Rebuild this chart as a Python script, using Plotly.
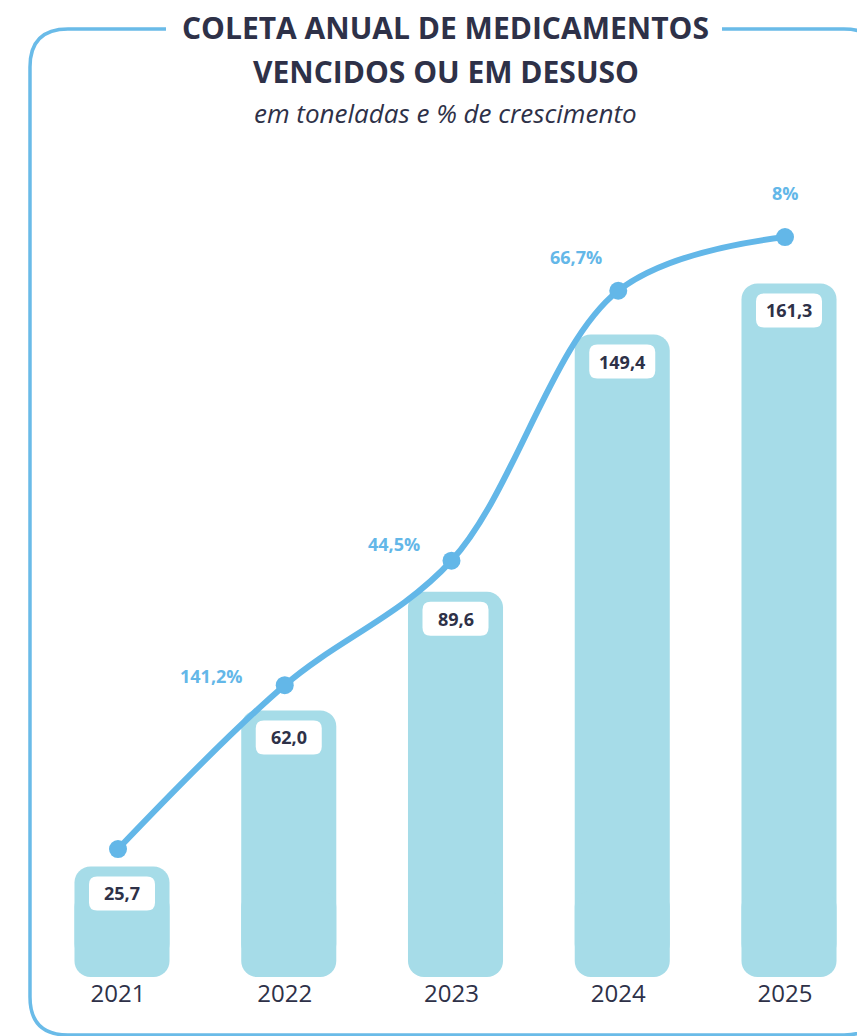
import plotly.graph_objects as go

# ---------------- data ----------------
years = ["2021", "2022", "2023", "2024", "2025"]
tonnes = [25.7, 62.0, 89.6, 149.4, 161.3]
tonnes_labels = ["25,7", "62,0", "89,6", "149,4", "161,3"]
growth_labels = ["", "141,2%", "44,5%", "66,7%", "8%"]

# ---------------- style ----------------
OFF = 8  # page body margin
W, H = 865 - OFF, 1036 - OFF
PLOT_TOP, PLOT_BOTTOM = 150 - OFF, 977 - OFF
BAR_COLOR = "#a6dce8"
LINE_COLOR = "#63b7e8"
TEXT_DARK = "#2e3148"
FONT = "Open Sans"

xs = list(range(len(years)))

fig = go.Figure()

# bars: two overlaid parts so both ends get rounded corners
BW = 0.57
bar_style = dict(marker_color=BAR_COLOR, marker_line_width=0, width=BW,
                 offset=-BW / 2 + 0.024, hoverinfo="skip", showlegend=False, opacity=1)
fig.add_trace(go.Bar(x=xs, y=[v - 4 for v in tonnes], base=[4] * len(xs), **bar_style))
fig.add_trace(go.Bar(x=xs, y=[-20] * len(xs), base=[20] * len(xs), **bar_style))

# line
fig.add_trace(go.Scatter(x=xs, y=tonnes, yaxis="y2", mode="lines+markers",
                         line=dict(color=LINE_COLOR, width=6, shape="spline", smoothing=1),
                         marker=dict(color=LINE_COLOR, size=18),
                         hoverinfo="skip", showlegend=False))

shapes = []
annotations = []

# value label boxes + text
bw, bh, r = 66, 34, 8
top_gap = 10
for i, (v, lab) in enumerate(zip(tonnes, tonnes_labels)):
    x0, x1 = -bw / 2 + 4, bw / 2 + 4
    y1, y0 = -top_gap, -top_gap - bh
    path = (f"M {x0 + r},{y1} L {x1 - r},{y1} Q {x1},{y1} {x1},{y1 - r} "
            f"L {x1},{y0 + r} Q {x1},{y0} {x1 - r},{y0} L {x0 + r},{y0} "
            f"Q {x0},{y0} {x0},{y0 + r} L {x0},{y1 - r} Q {x0},{y1} {x0 + r},{y1} Z")
    shapes.append(dict(type="path", xref="x", yref="y", xsizemode="pixel",
                       ysizemode="pixel", xanchor=xs[i], yanchor=v, path=path,
                       fillcolor="white", line=dict(width=0), layer="above"))
    annotations.append(dict(x=xs[i], y=v, xref="x", yref="y", text=f"<b>{lab}</b>",
                            showarrow=False, yshift=-top_gap - bh / 2, xshift=4,
                            font=dict(family=FONT, size=18, color=TEXT_DARK)))

# growth labels
offsets = [(0, 0), (-73, 9), (-58, 17), (-42, 34), (0, 44)]
for i, (v, lab) in enumerate(zip(tonnes, growth_labels)):
    if not lab:
        continue
    dx, dy = offsets[i]
    annotations.append(dict(x=xs[i], y=v, xref="x", yref="y2", text=f"<b>{lab}</b>",
                            showarrow=False, xshift=dx, yshift=dy,
                            font=dict(family=FONT, size=18, color=LINE_COLOR)))


def px(x):
    return (x - OFF) / W


def py(y):
    return (PLOT_BOTTOM - (y - OFF)) / (PLOT_BOTTOM - PLOT_TOP)


# titles
annotations += [
    dict(x=px(446), y=py(27), xref="paper", yref="paper", showarrow=False,
         text="<b>COLETA ANUAL DE MEDICAMENTOS</b>", yanchor="middle",
         font=dict(family=FONT, size=30, color=TEXT_DARK)),
    dict(x=px(446), y=py(71), xref="paper", yref="paper", showarrow=False,
         text="<b>VENCIDOS OU EM DESUSO</b>", yanchor="middle",
         font=dict(family=FONT, size=30, color=TEXT_DARK)),
    dict(x=px(446), y=py(113), xref="paper", yref="paper", showarrow=False,
         text="<i>em toneladas e % de crescimento</i>", yanchor="middle",
         font=dict(family=FONT, size=26, color=TEXT_DARK)),
]

# frame
L, R, T, B, rr = 30, 882, 29, 1035, 38
g0, g1 = 166, 722
pts = [
    ("M", (g1, T)), ("L", (R - rr, T)), ("Q", (R, T), (R, T + rr)),
    ("L", (R, B - rr)), ("Q", (R, B), (R - rr, B)), ("L", (L + rr, B)),
    ("Q", (L, B), (L, B - rr)), ("L", (L, T + rr)), ("Q", (L, T), (L + rr, T)),
    ("L", (g0, T)),
]
parts = []
for p in pts:
    cmd = p[0]
    coords = " ".join(f"{px(a):.5f},{py(b):.5f}" for a, b in p[1:])
    parts.append(f"{cmd} {coords}")
shapes.append(dict(type="path", xref="paper", yref="paper", path=" ".join(parts),
                   line=dict(color="#6abbe8", width=3.5), layer="below"))

spacing = 166.75
x_first = 118 - OFF
xr0 = -x_first / spacing
xr1 = xr0 + W / spacing
ppu_bar = 4.3
ppu_line = 4.513
zero_line_px = 965 - OFF
plot_h = PLOT_BOTTOM - PLOT_TOP
y2_lo = -(PLOT_BOTTOM - zero_line_px) / ppu_line

fig.update_layout(
    width=W, height=H,
    margin=dict(l=0, r=0, t=PLOT_TOP, b=H - PLOT_BOTTOM, pad=0),
    paper_bgcolor="white", plot_bgcolor="white",
    barmode="overlay", barcornerradius=16,
    xaxis=dict(range=[xr0, xr1], tickvals=xs, ticktext=years, showgrid=False,
               zeroline=False, showline=False, ticks="",
               tickfont=dict(family=FONT, size=24, color=TEXT_DARK)),
    yaxis=dict(range=[0, plot_h / ppu_bar], visible=False, showgrid=False),
    yaxis2=dict(range=[y2_lo, y2_lo + plot_h / ppu_line], overlaying="y",
                visible=False, showgrid=False),
    shapes=shapes, annotations=annotations,
)

fig.write_html("out.html")
